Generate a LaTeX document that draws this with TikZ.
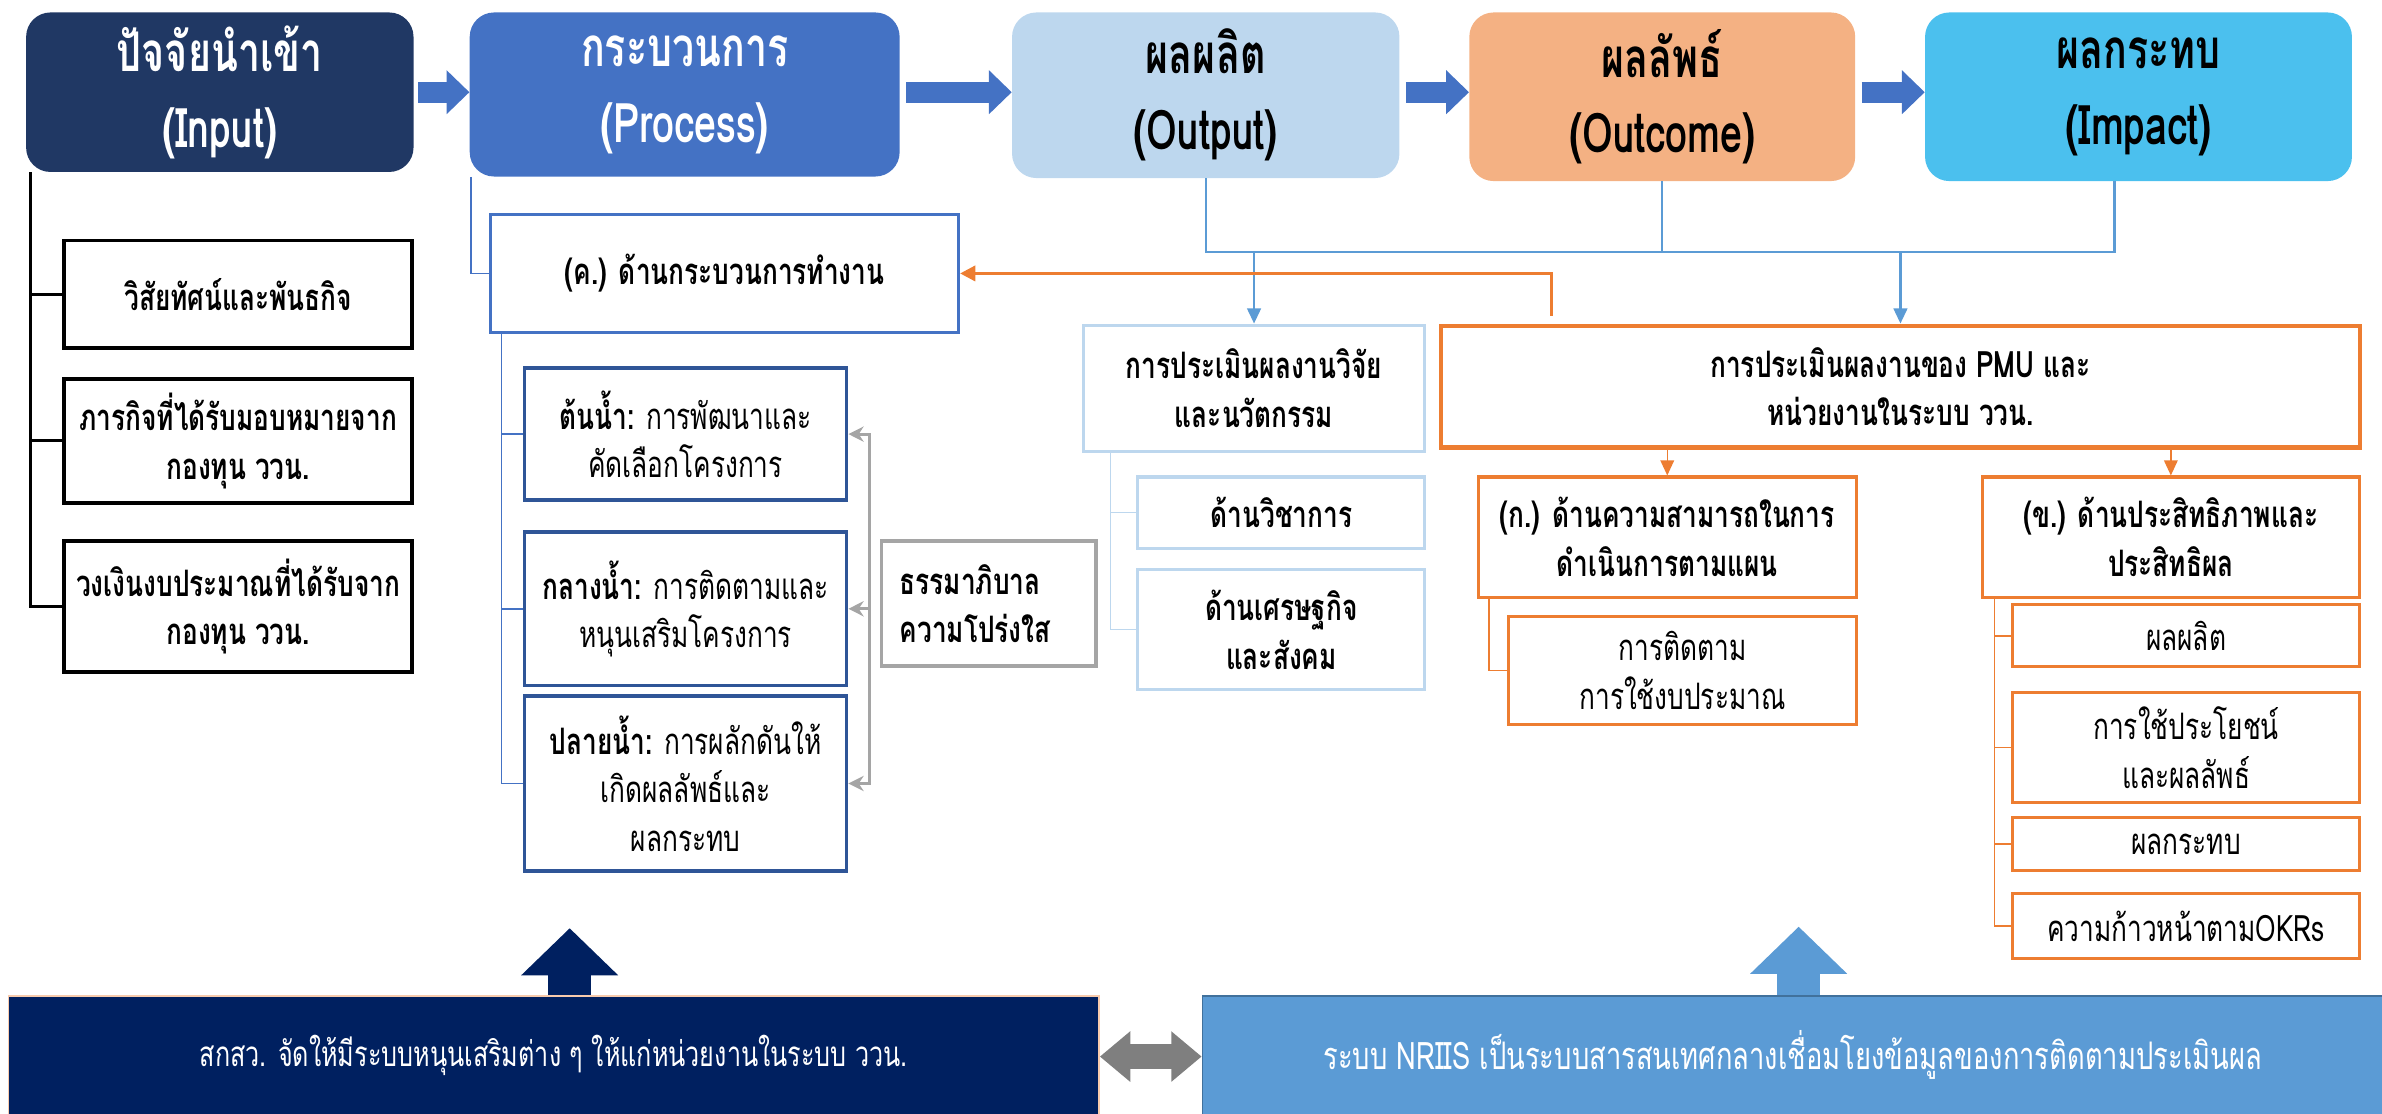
\documentclass[tikz,border=0pt]{standalone}
\usepackage{fontspec}
\setmainfont[Script=Thai,FakeStretch=0.72]{Loma}
\usetikzlibrary{arrows.meta,positioning}

\definecolor{navyin}{HTML}{203864}
\definecolor{procblue}{HTML}{4472C4}
\definecolor{outblue}{HTML}{BDD7EE}
\definecolor{outcpeach}{HTML}{F4B183}
\definecolor{impcyan}{HTML}{4BC0EE}
\definecolor{deepblue}{HTML}{2F5597}
\definecolor{busblue}{HTML}{5B9BD5}
\definecolor{pmuorange}{HTML}{ED7D31}
\definecolor{govgray}{HTML}{A5A5A5}
\definecolor{tsrinavy}{HTML}{002060}
\definecolor{nriisedge}{HTML}{41719C}
\definecolor{linkgray}{HTML}{7F7F7F}
\definecolor{peachedge}{HTML}{F8CBAD}

\begin{document}
\begin{tikzpicture}[x=1pt,y=-1pt,
  box/.style={anchor=north west, align=center, inner sep=0pt, font=\fontsize{24}{32}\selectfont},
  topbox/.style={box, rounded corners=16pt, font=\fontsize{36}{50}\selectfont\bfseries},
  inbox/.style={box, draw=black, line width=2.5pt, font=\fontsize{24}{32}\selectfont\bfseries},
  pbox/.style={box, draw=deepblue, line width=2.5pt},
  rbox/.style={box, draw=outblue, line width=2pt, font=\fontsize{24}{32}\selectfont\bfseries},
  obox/.style={box, draw=pmuorange, line width=2pt},
  flow/.style={procblue, line width=14pt, -{Triangle[length=15pt,width=28pt]}},
  intree/.style={black, line width=2pt},
  ptree/.style={procblue, line width=1pt},
  rtree/.style={outblue, line width=1pt},
  otree/.style={pmuorange, line width=1pt},
  bus/.style={busblue, line width=1.6pt},
  govarrow/.style={govgray, line width=2pt},
  bigup/.style={line width=28pt, -{Triangle[length=31pt,width=62pt]}}
]
\useasboundingbox (0,0) rectangle (1568,733);

% top row
\node[topbox, fill=navyin, text=white, minimum width=255pt, minimum height=105pt] (inp) at (17,8) {ปัจจัยนำเข้า\\(Input)};
\node[topbox, fill=procblue, text=white, minimum width=283pt, minimum height=108pt] (proc) at (309,8) {กระบวนการ\\(Process)};
\node[topbox, fill=outblue, minimum width=255pt, minimum height=109pt] (outp) at (666,8) {ผลผลิต\\(Output)};
\node[topbox, fill=outcpeach, minimum width=254pt, minimum height=111pt] (outc) at (967,8) {ผลลัพธ์\\(Outcome)};
\node[topbox, fill=impcyan, minimum width=281pt, minimum height=111pt] (imp) at (1267,8) {ผลกระทบ\\(Impact)};

\draw[flow] ([xshift=3pt]inp.east) -- (inp.east -| proc.west);
\draw[flow] ([xshift=4pt]proc.east |- inp.east) -- (inp.east -| outp.west);
\draw[flow] ([xshift=4pt]outp.east |- inp.east) -- (inp.east -| outc.west);
\draw[flow] ([xshift=4pt]outc.east |- inp.east) -- (inp.east -| imp.west);

% input
\node[inbox, minimum width=229pt, minimum height=71pt] (vis) at (41,157) {วิสัยทัศน์และพันธกิจ};
\node[inbox, minimum width=229pt, minimum height=82pt] (mis) at (41,248) {ภารกิจที่ได้รับมอบหมายจาก\\กองทุน ววน.};
\node[inbox, minimum width=229pt, minimum height=86pt] (bud) at (41,355) {วงเงินงบประมาณที่ได้รับจาก\\กองทุน ววน.};
\coordinate (istem) at ([xshift=3pt]inp.south west);
\draw[intree] (istem) |- (bud.west);
\foreach \b in {vis,mis} \draw[intree] (istem |- \b.west) -- (\b.west);

% process
\node[box, draw=procblue, line width=2pt, font=\fontsize{24}{32}\selectfont\bfseries, minimum width=308pt, minimum height=78pt] (kbox) at (322,140) {(ค.) ด้านกระบวนการทำงาน};
\node[pbox, minimum width=212pt, minimum height=87pt] (up) at (344,241) {{\bfseries ต้นน้ำ:} การพัฒนาและ\\คัดเลือกโครงการ};
\node[pbox, minimum width=212pt, minimum height=101pt] (mid) at (344,349) {{\bfseries กลางน้ำ:} การติดตามและ\\หนุนเสริมโครงการ};
\node[pbox, minimum width=212pt, minimum height=115pt] (down) at (344,457) {{\bfseries ปลายน้ำ:} การผลักดันให้\\เกิดผลลัพธ์และ\\ผลกระทบ};
\node[box, draw=govgray, line width=2.5pt, align=left, font=\fontsize{24}{32}\selectfont\bfseries, minimum width=141pt, minimum height=82pt, text width=117pt] (gov) at (579,355) {ธรรมาภิบาล\\ความโปร่งใส};

\draw[ptree] ([xshift=1pt]proc.south west) |- (kbox.west);
\coordinate (pstem) at ([xshift=8pt]kbox.south west);
\draw[ptree] (pstem) |- (down.west);
\foreach \b in {up,mid} \draw[ptree] (pstem |- \b.west) -- (\b.west);

\draw[govarrow, {Stealth[length=10pt,width=10pt]}-{Stealth[length=10pt,width=10pt]}] (up.east) -- ++(14,0) coordinate (gb) -- (gb |- down.east) -- (down.east);
\draw[govarrow, -{Stealth[length=10pt,width=10pt]}] (gb |- mid.east) -- (mid.east);

% output / outcome / impact
\coordinate (busR) at (1392,166);
\draw[bus] (outp.south) |- (busR) -- (busR |- imp.south);
\draw[bus] (outc.south) -- (outc.south |- busR);

\node[rbox, minimum width=225pt, minimum height=83pt] (resb) at (712,213) {การประเมินผลงานวิจัย\\และนวัตกรรม};
\node[rbox, minimum width=189pt, minimum height=47pt] (acad) at (748,313) {ด้านวิชาการ};
\node[rbox, minimum width=189pt, minimum height=79pt] (econ) at (748,374) {ด้านเศรษฐกิจ\\และสังคม};
\coordinate (rstem) at ([xshift=19pt]resb.south west);
\draw[rtree] (rstem) |- (econ.west);
\draw[rtree] (rstem |- acad.west) -- (acad.west);

\node[box, draw=pmuorange, line width=3pt, font=\fontsize{24}{32}\selectfont\bfseries, minimum width=605pt, minimum height=80pt] (pmu) at (947,213) {การประเมินผลงานของ PMU และ\\หน่วยงานในระบบ ววน.};
\draw[bus, -{Triangle[length=10pt,width=9pt]}] (resb.north |- busR) -- (resb.north);
\draw[bus, -{Triangle[length=10pt,width=9pt]}] (pmu.north |- busR) -- (pmu.north);

\coordinate (pmutap) at (1021,208);
\draw[pmuorange, line width=2pt, -{Triangle[length=10pt,width=10pt]}] (pmutap) |- (kbox.east);

\node[obox, font=\fontsize{24}{32}\selectfont\bfseries, minimum width=249pt, minimum height=79pt] (kab) at (972,313) {(ก.) ด้านความสามารถในการ\\ดำเนินการตามแผน};
\node[obox, minimum width=229pt, minimum height=71pt] (kasub) at (992,405) {การติดตาม\\การใช้งบประมาณ};
\node[obox, font=\fontsize{24}{32}\selectfont\bfseries, minimum width=248pt, minimum height=79pt] (khb) at (1304,313) {(ข.) ด้านประสิทธิภาพและ\\ประสิทธิผล};
\node[obox, minimum width=228pt, minimum height=41pt] (kh1) at (1324,397) {ผลผลิต};
\node[obox, minimum width=228pt, minimum height=72pt] (kh2) at (1324,455) {การใช้ประโยชน์\\และผลลัพธ์};
\node[obox, minimum width=228pt, minimum height=35pt] (kh3) at (1324,537) {ผลกระทบ};
\node[obox, minimum width=228pt, minimum height=43pt] (kh4) at (1324,587) {ความก้าวหน้าตามOKRs};

\draw[otree, -{Triangle[length=10pt,width=9pt]}] (kab.north |- pmu.south) -- (kab.north);
\draw[otree, -{Triangle[length=10pt,width=9pt]}] (khb.north |- pmu.south) -- (khb.north);
\coordinate (kstem) at ([xshift=8pt]kab.south west);
\draw[otree] (kstem) |- (kasub.west);
\coordinate (khstem) at ([xshift=9pt]khb.south west);
\draw[otree] (khstem) |- (kh4.west);
\foreach \b in {kh1,kh2,kh3} \draw[otree] (khstem |- \b.west) -- (\b.west);

% bottom
\node[box, fill=tsrinavy, draw=peachedge, line width=1pt, text=white, font=\fontsize{23}{32}\selectfont, minimum width=718pt, minimum height=78pt] (tsri) at (5,655) {สกสว. จัดให้มีระบบหนุนเสริมต่าง ๆ ให้แก่หน่วยงานในระบบ ววน.};
\node[box, fill=busblue, draw=nriisedge, line width=1pt, text=white, font=\fontsize{25}{32}\selectfont, minimum width=777pt, minimum height=78pt] (nriis) at (791,655) {ระบบ NRIIS เป็นระบบสารสนเทศกลางเชื่อมโยงข้อมูลของการติดตามประเมินผล};

\coordinate (tsritip) at (375,611);
\coordinate (nriistip) at (1184,610);
\draw[bigup, tsrinavy] (tsritip |- tsri.north) -- (tsritip);
\draw[bigup, busblue] (nriistip |- nriis.north) -- (nriistip);
\draw[linkgray, line width=16pt, {Triangle[length=20pt,width=32pt]}-{Triangle[length=20pt,width=32pt]}] ([yshift=-1pt]tsri.east) -- ([yshift=-1pt]tsri.east -| nriis.west);

\end{tikzpicture}
\end{document}
